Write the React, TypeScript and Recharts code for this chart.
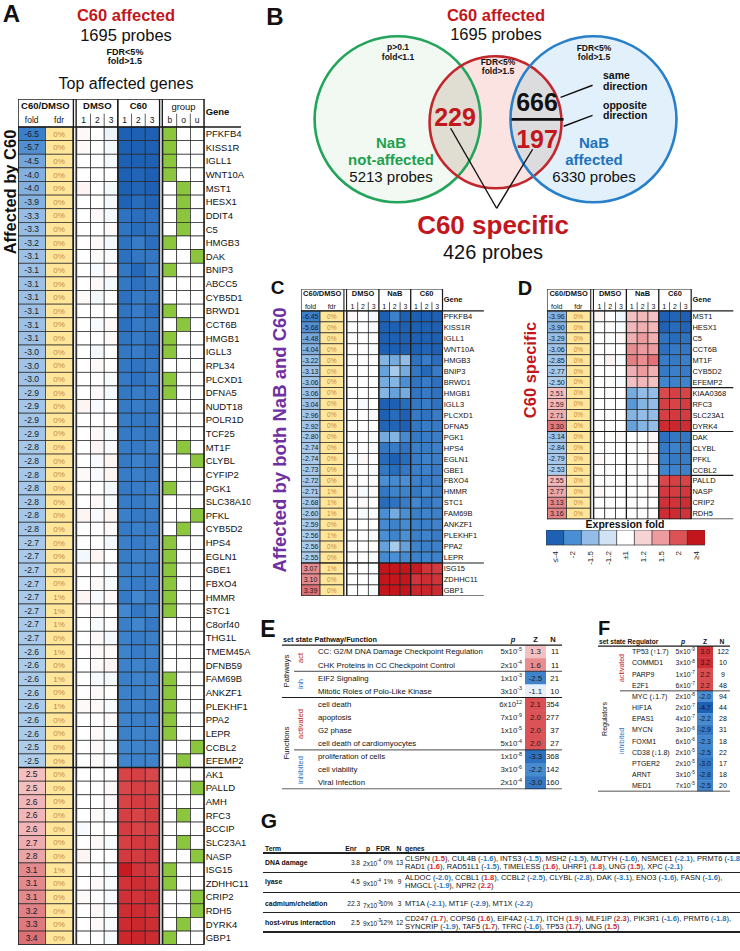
import React from "react";
import { ScatterChart, Scatter, XAxis, YAxis, BarChart, Bar, Cell } from "recharts";

const FONT = '"Liberation Sans", Arial, Helvetica, sans-serif';
const RED = "#c1171d";
const BLUE = "#1f73bd";
const GREEN = "#1fa04f";
const PURPLE = "#7030a0";

// ---------- panel A: top affected genes ----------
const aGenes = ["PFKFB4", "KISS1R", "IGLL1", "WNT10A", "MST1", "HESX1", "DDIT4", "C5", "HMGB3", "DAK", "BNIP3", "ABCC5", "CYB5D1", "BRWD1", "CCT6B", "HMGB1", "IGLL3", "RPL34", "PLCXD1", "DFNA5", "NUDT18", "POLR1D", "TCF25", "MT1F", "CLYBL", "CYFIP2", "PGK1", "SLC38A10", "PFKL", "CYB5D2", "HPS4", "EGLN1", "GBE1", "FBXO4", "HMMR", "STC1", "C8orf40", "THG1L", "TMEM45A", "DFNB59", "FAM69B", "ANKZF1", "PLEKHF1", "PPA2", "LEPR", "CCBL2", "EFEMP2", "AK1", "PALLD", "AMH", "RFC3", "BCCIP", "SLC23A1", "NASP", "ISG15", "ZDHHC11", "CRIP2", "RDH5", "DYRK4", "GBP1"];
const aFold = [-6.5, -5.7, -4.5, -4.0, -4.0, -3.9, -3.3, -3.3, -3.2, -3.1, -3.1, -3.1, -3.1, -3.1, -3.1, -3.1, -3.0, -3.0, -3.0, -2.9, -2.9, -2.9, -2.9, -2.8, -2.8, -2.8, -2.8, -2.8, -2.8, -2.8, -2.7, -2.7, -2.7, -2.7, -2.7, -2.7, -2.7, -2.7, -2.6, -2.6, -2.6, -2.6, -2.6, -2.6, -2.6, -2.5, -2.5, 2.5, 2.5, 2.6, 2.6, 2.6, 2.7, 2.8, 3.1, 3.1, 3.1, 3.2, 3.3, 3.4];
const aFdr = [0, 0, 0, 0, 0, 0, 0, 0, 0, 0, 0, 0, 0, 0, 0, 0, 0, 0, 0, 0, 0, 0, 0, 0, 0, 0, 0, 0, 0, 0, 0, 0, 0, 0, 1, 1, 1, 0, 1, 0, 1, 0, 1, 0, 0, 0, 0, 0, 0, 0, 0, 0, 0, 0, 1, 0, 0, 0, 0, 0];
const aGroup = ["b", "b", "b", "b", "o", "o", "o", "o", "b", "u", "b", "", "", "b", "o", "b", "b", "", "b", "b", "", "", "", "o", "u", "", "b", "", "u", "o", "b", "b", "b", "b", "b", "b", "", "", "", "", "b", "b", "b", "b", "b", "u", "o", "", "u", "", "o", "", "o", "u", "b", "b", "u", "u", "o", "b"];
const aDmso = [
  [1.03, 1, -1.08], [1.03, 1, -1.05], [1, 1, -1.05], [1, 1, 1], [1.05, 1, -1.05], [1, 1, -1.05], [1, 1.03, -1.05], [1, 1, 1.03], [1, 1.03, -1.05], [1, 1.03, -1.03],
  [1, -1.03, 1.03], [1, 1.03, -1.05], [1.03, -1.05, 1], [1, 1, 1], [1, -1.03, 1.03], [1, 1, 1.03], [1, -1.05, 1], [1, 1.03, 1], [1, 1, -1.03], [1, 1.03, -1.05],
  [1.05, -1.03, 1], [1, 1, 1], [1, 1.03, -1.03], [1, 1.05, -1.03], [1, -1.03, 1.05], [1.03, -1.03, 1.05], [1, 1, -1.05], [1, 1.03, -1.03], [1.05, -1.03, 1.05], [1, 1, 1.03],
  [1, 1, -1.05], [-1.05, 1.05, 1], [1, 1, -1.03], [1, 1.03, -1.03], [1.05, -1.03, 1.03], [1, 1.03, 1], [1, -1.03, 1], [1, 1.03, -1.05], [1, 1.03, 1.03], [1, 1.03, 1.05],
  [1, -1.03, -1.05], [1, 1.03, 1], [1.03, 1.03, -1.03], [1, 1, 1.03], [1, 1.03, -1.03], [1, 1.03, -1.03], [1, 1.03, -1.03], [1, 1, 1], [1, 1, 1.03], [1, 1, 1.03],
  [1, 1.03, -1.03], [-1.03, 1, 1], [1, 1.03, -1.03], [1.05, 1, 1], [1, 1, -1.03], [1, 1.03, -1.03], [1.03, 1, -1.03], [1, 1.03, -1.03], [1, 1.03, -1.03], [1, 1, -1.03],
];
const aC60 = [
  [-6, -6, -6], [-5.5, -5.7, -5.8], [-4.5, -4.3, -4.6], [-4, -3.8, -4.2], [-4, -3.8, -4.1], [-3.9, -3.5, -3.8], [-3.2, -3.4, -3.3], [-3.1, -3.5, -3.2], [-3.2, -2.8, -3.4], [-3.3, -3, -3],
  [-3, -3.6, -2.8], [-3, -3.2, -3], [-3.3, -2.9, -3], [-3.1, -2.8, -3.3], [-3.3, -2.9, -3], [-3.1, -2.9, -3.2], [-3, -2.8, -3.2], [-3, -3.1, -2.9], [-2.9, -3.2, -2.8], [-3, -2.8, -2.9],
  [-2.9, -2.8, -3], [-2.8, -3, -2.9], [-2.9, -2.8, -3], [-2.8, -2.9, -2.7], [-2.9, -2.6, -2.9], [-2.8, -2.7, -2.9], [-2.9, -2.8, -2.7], [-2.8, -2.9, -2.6], [-2.7, -2.9, -2.8], [-2.9, -2.7, -2.8],
  [-2.7, -2.8, -2.6], [-2.8, -2.6, -2.7], [-2.7, -2.6, -2.8], [-2.6, -2.8, -2.7], [-2.9, -2.3, -2.8], [-2.3, -3, -2.6], [-2.7, -2.4, -2.9], [-2.6, -2.8, -2.7], [-2.5, -2.8, -2.6], [-2.6, -2.5, -2.7],
  [-2.7, -2.5, -2.6], [-2.6, -2.7, -2.5], [-2.7, -2.5, -2.8], [-2.5, -2.7, -2.6], [-2.6, -2.5, -2.6], [-2.4, -2.5, -2.6], [-2.4, -2.6, -2.5], [2.5, 2.6, 2.4], [2.4, 2.6, 2.5], [2.5, 2.7, 2.6],
  [2.6, 2.5, 2.7], [2.7, 2.5, 2.6], [2.6, 2.8, 2.7], [2.8, 2.7, 2.9], [3.8, 3, 2.8], [3, 3.2, 3], [3.1, 3, 3.2], [3.2, 3.3, 3], [3.3, 3.4, 3.2], [3.4, 3.5, 3.3],
];
const groupKeys = ["b", "o", "u"];

// ---------- panel C: affected by both NaB and C60 ----------
const cGenes = ["PFKFB4", "KISS1R", "IGLL1", "WNT10A", "HMGB3", "BNIP3", "BRWD1", "HMGB1", "IGLL3", "PLCXD1", "DFNA5", "PGK1", "HPS4", "EGLN1", "GBE1", "FBXO4", "HMMR", "STC1", "FAM69B", "ANKZF1", "PLEKHF1", "PPA2", "LEPR", "ISG15", "ZDHHC11", "GBP1"];
const cFold = [-6.45, -5.68, -4.48, -4.04, -3.22, -3.13, -3.06, -3.06, -3.04, -2.96, -2.92, -2.80, -2.74, -2.74, -2.73, -2.72, -2.71, -2.68, -2.60, -2.59, -2.56, -2.56, -2.55, 3.07, 3.10, 3.39];
const cFdr = [0, 0, 0, 0, 0, 0, 0, 0, 0, 0, 0, 0, 0, 0, 0, 0, 1, 1, 1, 0, 1, 0, 0, 1, 0, 0];
const cDmso = [[1.03, 1, -1.05], [1, 1, -1.03], [1, 1, 1], [1, 1, -1.03], [1, 1, 1], [1, 1, 1], [1, 1, 1], [1, 1, 1], [1, -1.03, 1], [1, 1, -1.03], [1, 1, 1], [1, 1, -1.03], [1, 1, -1.03], [-1.03, 1.03, 1], [1, 1, -1.03], [1, 1, 1], [1.03, -1.03, 1.03], [1, 1.03, 1], [1, -1.03, -1.03], [1, 1, 1], [1, 1, -1.03], [1, 1, 1], [1, 1, -1.03], [1, 1, -1.03], [1, 1, -1.03], [1, 1, -1.03]];
const cNab = [[-4.5, -2.6, -5], [-5, -5, -5], [-4.5, -4.5, -4.5], [-4.2, -4.2, -4.2], [-1.6, -1.7, -1.5], [-1.8, -1.4, -1.7], [-1.7, -1.6, -2], [-1.6, -1.8, -1.7], [-4, -4, -3.5], [-4, -3.5, -4], [-3.8, -3.8, -4], [-1.7, -1.6, -2.2], [-3, -2.8, -3.2], [-3.5, -4, -3.5], [-3, -3.5, -3], [-2, -2.2, -2], [-3, -2.5, -2.5], [-3.5, -3.2, -2.8], [-2, -1.7, -2], [-2.2, -2.5, -2.2], [-2, -2.5, -2], [-1.8, -1.4, -1.8], [-2.2, -2, -2.2], [5, 5, 5], [5, 5, 5], [4.5, 4.5, 4.5]];
const cC60 = [[-6, -6, -6], [-5.5, -5.7, -5.8], [-4.5, -4.3, -4.6], [-4, -3.8, -4.2], [-3.2, -2.8, -3.4], [-3, -3.6, -2.8], [-3.1, -2.8, -3.3], [-3.1, -2.9, -3.2], [-3, -2.8, -3.2], [-2.9, -3.2, -2.8], [-3, -2.8, -2.9], [-2.9, -2.8, -2.7], [-2.7, -2.8, -2.6], [-2.8, -2.6, -2.7], [-2.7, -2.6, -2.8], [-2.6, -2.8, -2.7], [-2.9, -2.3, -2.8], [-2.3, -3, -2.6], [-2.7, -2.5, -2.6], [-2.6, -2.7, -2.5], [-2.7, -2.5, -2.8], [-2.5, -2.7, -2.6], [-2.6, -2.5, -2.6], [3.8, 3, 2.8], [3, 3.2, 3], [3.4, 3.5, 3.3]];

// ---------- panel D: C60 specific ----------
const dGenes = ["MST1", "HESX1", "C5", "CCT6B", "MT1F", "CYB5D2", "EFEMP2", "KIAA0368", "RFC3", "SLC23A1", "DYRK4", "DAK", "CLYBL", "PFKL", "CCBL2", "PALLD", "NASP", "CRIP2", "RDH5"];
const dFold = [-3.96, -3.90, -3.29, -3.06, -2.85, -2.77, -2.50, 2.51, 2.59, 2.71, 3.30, -3.14, -2.84, -2.79, -2.53, 2.55, 2.77, 3.13, 3.16];
const dFdr = [0, 0, 0, 0, 0, 0, 0, 0, 0, 0, 0, 0, 0, 0, 0, 0, 0, 0, 0];
const dDmso = [[1.05, 1, -1.05], [1, 1, -1.03], [1, 1, 1.03], [1, 1, 1], [1, 1.05, -1.03], [1, 1, 1], [1, 1, -1.03], [1, 1, 1], [1, 1, 1], [1, 1, 1], [1, 1, 1], [1, 1, 1.03], [1, 1, 1], [1.03, 1, 1], [1, 1, 1], [1, 1, 1], [1.03, 1, 1], [1, 1, 1], [1, 1, 1]];
const dNab = [[1.3, 1.35, 1.3], [1.35, 1.4, 1.35], [1.4, 1.5, 1.4], [1.6, 1.5, 1.5], [1.7, 1.6, 1.8], [1.4, 1.5, 1.4], [1.3, 1.35, 1.3], [-1.7, -1.5, -1.5], [-1.9, -1.6, -1.5], [-1.6, -1.5, -1.5], [-1.8, -1.6, -1.5], [1, 1, 1.03], [1, 1, 1.03], [1, 1, 1.05], [1, 1, 1], [1, 1, 1.03], [1, 1, 1.03], [1, 1, 1], [1, 1, 1]];
const dC60 = [[-4, -3.8, -4.1], [-3.9, -3.5, -3.8], [-3.1, -3.5, -3.2], [-3.3, -2.9, -3], [-2.8, -2.9, -2.7], [-2.9, -2.7, -2.8], [-2.4, -2.6, -2.5], [2.3, 2.6, 2.5], [2.6, 2.5, 2.7], [2.6, 2.8, 2.7], [3.3, 3.4, 3.2], [-3.3, -3, -3], [-2.9, -2.6, -2.9], [-2.7, -2.9, -2.8], [-2.4, -2.5, -2.6], [2.4, 2.6, 2.5], [2.8, 2.7, 2.9], [3.1, 3, 3.2], [3.2, 3.3, 3]];

// ---------- colour legend ----------
const legendLabels = ["≤-4", "-2", "-1.5", "-1.2", "±1", "1.2", "1.5", "2", "≥4"];
const legendValues = [-4, -2, -1.5, -1.2, 1, 1.2, 1.5, 2, 4];

// ---------- panel E: pathways / functions ----------
const eNames = ["CC: G2/M DNA Damage Checkpoint Regulation", "CHK Proteins in CC Checkpoint Control", "EIF2 Signaling", "Mitotic Roles of Polo-Like Kinase", "cell death", "apoptosis", "G2 phase", "cell death of cardiomyocytes", "proliferation of cells", "cell viability", "Viral Infection"];
const eP = [["5", "-5"], ["2", "-4"], ["1", "-3"], ["3", "-3"], ["6", "12"], ["7", "-9"], ["1", "-5"], ["5", "-4"], ["1", "-8"], ["3", "-6"], ["2", "-4"]];
const eZ = [1.3, 1.6, -2.5, -1.1, 2.1, 2.0, 2.0, 2.0, -3.3, -2.2, -3.0];
const eN = [11, 11, 21, 10, 354, 277, 37, 27, 368, 142, 160];

// ---------- panel F: upstream regulators ----------
const fNames = ["TP53 (↑1.7)", "COMMD1", "PARP9", "E2F1", "MYC (↓1.7)", "HIF1A", "EPAS1", "MYCN", "FOXM1", "CD38 (↓1.8)", "PTGER2", "ARNT", "MED1"];
const fP = [["5", "-9"], ["3", "-8"], ["1", "-7"], ["6", "-7"], ["2", "-8"], ["2", "-7"], ["4", "-7"], ["3", "-6"], ["6", "-6"], ["2", "-5"], ["2", "-5"], ["3", "-5"], ["7", "-5"]];
const fZ = [3.0, 3.2, 2.2, 2.2, -2.0, -4.7, -2.2, -2.9, -2.3, -2.5, -3.0, -2.8, -2.5];
const fN = [122, 10, 9, 48, 94, 44, 28, 31, 18, 22, 17, 18, 20];

// ---------- panel G: enriched terms ----------
const gTerms = ["DNA damage", "lyase", "cadmium/chelation", "host-virus interaction"];
const gEnr = ["3.8", "4.5", "22.3", "2.5"];
const gP = [["2", "-4"], ["9", "-4"], ["7", "-3"], ["9", "-3"]];
const gFdr = ["0%", "1%", "10%", "12%"];
const gN = [13, 9, 3, 12];
const gGenes: [string, number][][][] = [
  [[["CLSPN", 1.5], ["CUL4B", -1.6], ["INTS3", -1.5], ["MSH2", -1.5], ["MUTYH", -1.6], ["NSMCE1", -2.1], ["PRMT6", -1.8]],
   [["RAD1", 1.6], ["RAD51L1", -1.5], ["TIMELESS", 1.6], ["UHRF1", 1.8], ["UNG", 1.5], ["XPC", -2.1]]],
  [[["ALDOC", -2.0], ["CCBL1", 1.8], ["CCBL2", -2.5], ["CLYBL", -2.8], ["DAK", -3.1], ["ENO3", -1.6], ["FASN", -1.6]],
   [["HMGCL", -1.9], ["NPR2", 2.2]]],
  [[["MT1A", -2.1], ["MT1F", -2.9], ["MT1X", -2.2]]],
  [[["CD247", 1.7], ["COPS6", 1.6], ["EIF4A2", -1.7], ["ITCH", 1.9], ["MLF1IP", 2.3], ["PIK3R1", -1.6], ["PRMT6", -1.8]],
   [["SYNCRIP", -1.9], ["TAF5", 1.7], ["TFRC", -1.6], ["TP53", 1.7], ["UNG", 1.5]]],
];

// ---------- venn ----------
const vennSets = [
  { key: "nab0", x: 0, y: 0, r: 1, fill: "#f1f9f2", stroke: "#22a45a" },
  { key: "c60", x: 1.18, y: 0.036, r: 0.795, fill: "#fbe3e1", stroke: "#c1272d" },
  { key: "nab", x: 2.36, y: 0, r: 1, fill: "#e1f0fa", stroke: "#2a80c8" },
];
const vennLenses = [
  { key: "lgr", x: 0, y: 0, r: 1, clip: "c60", fill: "#e0ddd3" },
  { key: "lrb", x: 2.36, y: 0, r: 1, clip: "c60", fill: "#dcdcdf" },
];
const vennLinks = [
  { x: 1.373, y: 0, x2: 2.0, y2: 0, w: 2.8 },
  { x: 1.964, y: -0.265, x2: 2.349, y2: -0.41, w: 1.4 },
  { x: 2.0, y: 0.084, x2: 2.349, y2: -0.048, w: 1.4 },
  { x: 0.639, y: 0.108, x2: 1.193, y2: 1.072, w: 1.4 },
  { x: 1.193, y: 1.072, x2: 1.627, y2: 0.361, w: 1.4 },
];

// ---------- colours ----------
const heatStops: [number, string][] = [
  [-4, "#1d60b4"], [-2, "#4a8fd3"], [-1.5, "#93bde6"], [-1.2, "#d0e2f3"], [-1, "#ffffff"],
  [1, "#ffffff"], [1.2, "#f7d4d4"], [1.5, "#ec9c9f"], [2, "#dc5357"], [4, "#c3151c"],
];
function mix(a: string, b: string, t: number) {
  const pa = [1, 3, 5].map((i) => parseInt(a.slice(i, i + 2), 16));
  const pb = [1, 3, 5].map((i) => parseInt(b.slice(i, i + 2), 16));
  return "#" + pa.map((v, i) => Math.round(v + (pb[i] - v) * t).toString(16).padStart(2, "0")).join("");
}
function heatColor(v: number) {
  if (v <= heatStops[0][0]) return heatStops[0][1];
  for (let i = 1; i < heatStops.length; i++) {
    const [v1, c1] = heatStops[i];
    const [v0, c0] = heatStops[i - 1];
    if (v <= v1) return mix(c0, c1, (v - v0) / (v1 - v0));
  }
  return heatStops[heatStops.length - 1][1];
}
function foldColor(v: number) {
  if (v < 0) return mix("#aecdeb", "#3b7fca", Math.min(1, Math.max(0, (-v - 2.5) / 4)));
  return mix("#f3bfc1", "#d9676c", Math.min(1, Math.max(0, (v - 2.5) / 1)));
}

type Pt = { x: number; y: number; kind: string; w?: number; v?: number; t?: string; sup?: string; fs?: number; bold?: boolean; italic?: boolean; color?: string; anchor?: string };
type Ln = { x: number; y: number; x2: number; y2: number; w: number };

const cellShape = (ux: number, uy: number) => (p: any) => {
  const d: Pt = p.payload;
  const cx: number = p.cx;
  const cy: number = p.cy;
  const w = (d.w ?? 1) * ux;
  const h = uy;
  const x = cx - w / 2;
  const y = cy - h / 2;
  const fs = d.fs ?? 8;
  const label = (fill: string) =>
    d.t ? (
      <text x={cx} y={cy} dy="0.36em" textAnchor="middle" fontSize={fs} fill={fill} fontFamily={FONT}>{d.t}</text>
    ) : null;
  if (d.kind === "heat") return <rect x={x} y={y} width={w} height={h} fill={heatColor(d.v!)} stroke="#262626" strokeWidth={0.7} />;
  if (d.kind === "fold")
    return (<g><rect x={x} y={y} width={w} height={h} fill={foldColor(d.v!)} stroke="#262626" strokeWidth={0.7} />{label("#1c1c1c")}</g>);
  if (d.kind === "fdr")
    return (<g><rect x={x} y={y} width={w} height={h} fill="#ffe69a" stroke="#262626" strokeWidth={0.7} />{label("#c08a3e")}</g>);
  if (d.kind === "group") return <rect x={x} y={y} width={w} height={h} fill={d.v ? "#8cc63f" : "#ffffff"} stroke="#262626" strokeWidth={0.7} />;
  if (d.kind === "z")
    return (<g><rect x={x} y={y} width={w} height={h + 0.3} fill={heatColor(d.v!)} />{label("#1c1c1c")}</g>);
  if (d.kind === "p")
    return (
      <text x={cx} y={cy} dy="0.36em" textAnchor="end" fontSize={fs} fill="#1c1c1c" fontFamily={FONT}>
        {d.t}x10<tspan dy={-fs * 0.42} fontSize={fs * 0.68}>{d.sup}</tspan>
      </text>
    );
  return (
    <text x={cx} y={cy} dy="0.36em" textAnchor={(d.anchor as any) ?? "middle"} fontSize={fs} fontWeight={d.bold ? 700 : 400}
      fontStyle={d.italic ? "italic" : "normal"} fill={d.color ?? "#111"} fontFamily={FONT}>{d.t}</text>
  );
};

// a rule drawn from (x, y) to (x2, y2) in data units, on top of the cells
const ruleShape = (ux: number, uy: number, color = "#1b1b1b") => (p: any) => {
  const d: Ln = p.payload;
  return <line x1={p.cx} y1={p.cy} x2={p.cx + (d.x2 - d.x) * ux} y2={p.cy + (d.y2 - d.y) * uy} stroke={color} strokeWidth={d.w} />;
};

function GridTable({ left, top, ux, uy, hdr, rows, total, points, lines }: { left: number; top: number; ux: number; uy: number; hdr: number; rows: number; total: number; points: Pt[]; lines: Ln[] }) {
  const M = 4;
  const W = total * ux;
  const H = (hdr + rows) * uy;
  return (
    <div style={{ position: "absolute", left: left - M, top: top - M }}>
      <ScatterChart width={W + 2 * M} height={H + 2 * M} margin={{ top: M, right: M, bottom: M, left: M }}>
        <XAxis type="number" dataKey="x" domain={[0, total]} hide allowDataOverflow />
        <YAxis type="number" dataKey="y" domain={[-hdr, rows]} reversed hide allowDataOverflow />
        <Scatter data={points} shape={cellShape(ux, uy)} isAnimationActive={false} />
        <Scatter data={lines} shape={ruleShape(ux, uy)} isAnimationActive={false} />
      </ScatterChart>
    </div>
  );
}

function buildExpr(o: any) {
  const pts: Pt[] = [];
  const lines: Ln[] = [];
  const L = (x: number, y: number, x2: number, y2: number, w: number) => lines.push({ x, y, x2, y2, w });
  const n = o.genes.length;
  const hx = o.fw + o.dw + o.gap;
  const he = hx + 3 * o.blocks.length;
  const gx = o.group ? he + o.gap : he;
  const gene = o.group ? gx + 3 : he;
  const total = gene + o.gw;
  o.genes.forEach((g: string, i: number) => {
    const y = i + 0.5;
    const f = o.fold[i];
    pts.push({ x: o.fw / 2, y, w: o.fw, kind: "fold", v: f, t: f.toFixed(o.digits), fs: o.fsVal });
    pts.push({ x: o.fw + o.dw / 2, y, w: o.dw, kind: "fdr", t: o.fdr[i] + "%", fs: o.fsVal - 0.5 });
    o.blocks.forEach((b: any, k: number) =>
      b.vals[i].forEach((v: number, j: number) => pts.push({ x: hx + 3 * k + j + 0.5, y, w: 1, kind: "heat", v })));
    if (o.group) groupKeys.forEach((key, j) => pts.push({ x: gx + j + 0.5, y, w: 1, kind: "group", v: o.group[i] === key ? 1 : 0 }));
    pts.push({ x: gene + 0.12, y, kind: "text", anchor: "start", t: g, fs: o.fsGene });
  });
  pts.push({ x: (o.fw + o.dw) / 2, y: o.topY, kind: "text", t: "C60/DMSO", bold: true, fs: o.fsHead });
  pts.push({ x: o.fw / 2, y: o.subY, kind: "text", t: "fold", fs: o.fsSub });
  pts.push({ x: o.fw + o.dw / 2, y: o.subY, kind: "text", t: "fdr", fs: o.fsSub });
  const subSeps = (x0: number) => { L(x0 + 1, o.subTop, x0 + 1, 0, 0.7); L(x0 + 2, o.subTop, x0 + 2, 0, 0.7); };
  o.blocks.forEach((b: any, k: number) => {
    pts.push({ x: hx + 3 * k + 1.5, y: o.topY, kind: "text", t: b.name, bold: true, fs: o.fsHead });
    [1, 2, 3].forEach((num, j) => pts.push({ x: hx + 3 * k + j + 0.5, y: o.subY, kind: "text", t: String(num), fs: o.fsSub }));
    subSeps(hx + 3 * k);
    if (k > 0) L(hx + 3 * k, -o.hdr, hx + 3 * k, n, o.lw * 1.1);
  });
  if (o.group) {
    pts.push({ x: gx + 1.5, y: o.topY + 0.05, kind: "text", t: "group", fs: o.fsHead });
    groupKeys.forEach((key, j) => pts.push({ x: gx + j + 0.5, y: o.subY, kind: "text", t: key, fs: o.fsSub }));
    subSeps(gx);
    L(he + o.dd, -o.hdr, he + o.dd, n, o.lw * 0.9);
    L(gx - o.dd, -o.hdr, gx - o.dd, n, o.lw * 0.9);
  }
  pts.push({ x: gene + 0.12, y: o.geneY, kind: "text", anchor: "start", t: "Gene", bold: true, fs: o.fsHead });
  L(0, -o.hdr, gene, -o.hdr, o.lw);
  L(0, 0, gene + o.gwLine, 0, o.lw);
  L(0, -o.hdr, 0, n, o.lw);
  L(o.fw + o.dw + o.dd, -o.hdr, o.fw + o.dw + o.dd, n, o.lw * 0.9);
  L(hx - o.dd, -o.hdr, hx - o.dd, n, o.lw * 0.9);
  L(gene, -o.hdr, gene, n, o.lw);
  o.sepFull.forEach((r: number) => L(0, r, gene + o.gwLine, r, o.lw));
  o.sepGene.forEach((r: number) => L(gene, r, gene + o.gwLine, r, o.lw));
  L(0, n, o.bottomGene ? gene + o.gwLine : gene, n, o.lw);
  return { pts, lines, total, n };
}

const tabA = buildExpr({
  genes: aGenes, fold: aFold, fdr: aFdr, group: aGroup, digits: 1,
  blocks: [{ name: "DMSO", vals: aDmso }, { name: "C60", vals: aC60 }],
  fw: 2, dw: 2, gap: 0.3, gw: 3.4, gwLine: 2.7, dd: 0.05, hdr: 2.05, lw: 1.5,
  topY: -1.54, subY: -0.5, subTop: -0.98, geneY: -1.1,
  fsHead: 9.5, fsSub: 8.5, fsVal: 8.5, fsGene: 9.5, sepFull: [47], sepGene: [], bottomGene: false,
});
const tabC = buildExpr({
  genes: cGenes, fold: cFold, fdr: cFdr, digits: 2,
  blocks: [{ name: "DMSO", vals: cDmso }, { name: "NaB", vals: cNab }, { name: "C60", vals: cC60 }],
  fw: 1.8, dw: 2.2, gap: 0.35, gw: 4.0, gwLine: 3.9, dd: 0.05, hdr: 2.0, lw: 1.2,
  topY: -1.57, subY: -0.36, subTop: -0.8, geneY: -1.08,
  fsHead: 7.5, fsSub: 7, fsVal: 7, fsGene: 7.5, sepFull: [23], sepGene: [], bottomGene: true,
});
const tabD = buildExpr({
  genes: dGenes, fold: dFold, fdr: dFdr, digits: 2,
  blocks: [{ name: "DMSO", vals: dDmso }, { name: "NaB", vals: dNab }, { name: "C60", vals: dC60 }],
  fw: 1.8, dw: 2.2, gap: 0.35, gw: 4.0, gwLine: 3.9, dd: 0.05, hdr: 2.0, lw: 1.2,
  topY: -1.57, subY: -0.36, subTop: -0.8, geneY: -1.08,
  fsHead: 7.5, fsSub: 7, fsVal: 7, fsGene: 7.5, sepFull: [11], sepGene: [7, 15], bottomGene: true,
});

function buildStat(names: string[], ps: string[][], zs: number[], ns: number[], c: any, head: any[], seps: Ln[]) {
  const pts: Pt[] = [];
  names.forEach((nm, i) => {
    const y = i + 0.5;
    pts.push({ x: c.name, y, kind: "text", anchor: "start", t: nm, fs: c.fs });
    pts.push({ x: c.p, y, kind: "p", t: ps[i][0], sup: ps[i][1], fs: c.fs });
    pts.push({ x: c.z, y, w: c.zw, kind: "z", v: zs[i], t: zs[i].toFixed(1), fs: c.fs });
    pts.push({ x: c.n, y, kind: "text", anchor: c.nAnchor, t: String(ns[i]), fs: c.fs });
  });
  head.forEach((h) => pts.push({ x: h[1], y: -0.45, kind: "text", anchor: h[2], t: h[0], bold: true, italic: h[0] === "p", fs: h[3] ?? c.fs - 0.3 }));
  return { pts, lines: seps };
}

const tabE = buildStat(eNames, eP, eZ, eN, { name: 36, p: 240, z: 253.5, zw: 21, n: 277, nAnchor: "end", fs: 7.8 },
  [["set state Pathway/Function", 1, "start", 7.3], ["p", 231, "middle"], ["Z", 253.5, "middle"], ["N", 271, "middle"]],
  [
    { x: 0, y: 0, x2: 280, y2: 0, w: 1.1 }, { x: 12, y: 2, x2: 280, y2: 2, w: 0.8 }, { x: 0, y: 4, x2: 280, y2: 4, w: 1.1 },
    { x: 12, y: 8, x2: 280, y2: 8, w: 0.8 }, { x: 0, y: 11, x2: 280, y2: 11, w: 1.3 },
  ]);
const tabF = buildStat(fNames, fP, fZ, fN, { name: 34, p: 97, z: 107, zw: 16, n: 125, nAnchor: "middle", fs: 7 },
  [["set state Regulator", 1, "start", 6.6], ["p", 85, "middle"], ["Z", 107, "middle"], ["N", 124, "middle"]],
  [{ x: 0, y: 0, x2: 132, y2: 0, w: 1.1 }, { x: 22, y: 4, x2: 132, y2: 4, w: 0.8 }, { x: 0, y: 13, x2: 132, y2: 13, w: 1.3 }]);

function T({ x, y, s, b, c, a = "middle", r, it, children }: any) {
  const tx = a === "middle" ? "-50%" : a === "end" ? "-100%" : "0";
  return (
    <div style={{ position: "absolute", left: x, top: y, transform: `translate(${tx}, -50%)${r ? " rotate(-90deg)" : ""}`, fontSize: s, fontWeight: b ? 700 : 400, fontStyle: it ? "italic" : "normal", color: c ?? "#111", whiteSpace: "nowrap", lineHeight: 1 }}>
      {children}
    </div>
  );
}

const VU = 83;
function Venn() {
  const M = 4;
  const xd = [-1.2, 3.6];
  const yd = [-1.1, 1.2];
  const W = (xd[1] - xd[0]) * VU;
  const H = (yd[1] - yd[0]) * VU;
  const fillShape = (p: any) => <circle cx={p.cx} cy={p.cy} r={p.payload.r * VU} fill={p.payload.fill} />;
  const lineShape = (p: any) => <circle cx={p.cx} cy={p.cy} r={p.payload.r * VU} fill="none" stroke={p.payload.stroke} strokeWidth={2.6} />;
  const lensShape = (p: any) => {
    const d = p.payload;
    const o = vennSets.find((s) => s.key === d.clip)!;
    return (
      <g>
        <defs><clipPath id={d.key}><circle cx={p.cx + (o.x - d.x) * VU} cy={p.cy + (o.y - d.y) * VU} r={o.r * VU} /></clipPath></defs>
        <circle cx={p.cx} cy={p.cy} r={d.r * VU} fill={d.fill} clipPath={`url(#${d.key})`} />
      </g>
    );
  };
  return (
    <div style={{ position: "absolute", left: 398 + xd[0] * VU - M, top: 119 + yd[0] * VU - M }}>
      <ScatterChart width={W + 2 * M} height={H + 2 * M} margin={{ top: M, right: M, bottom: M, left: M }}>
        <XAxis type="number" dataKey="x" domain={xd} hide allowDataOverflow />
        <YAxis type="number" dataKey="y" domain={yd} reversed hide allowDataOverflow />
        <Scatter data={vennSets} shape={fillShape} isAnimationActive={false} />
        <Scatter data={vennLenses} shape={lensShape} isAnimationActive={false} />
        <Scatter data={vennSets} shape={lineShape} isAnimationActive={false} />
        <Scatter data={vennLinks} shape={ruleShape(VU, VU, "#111")} isAnimationActive={false} />
      </ScatterChart>
    </div>
  );
}

const LegendTick = (p: any) => (
  <text x={p.x} y={p.y - 2} transform={`rotate(-90 ${p.x} ${p.y - 2})`} textAnchor="end" dy="0.35em" fontSize={8} fill="#222" fontFamily={FONT}>{p.payload.value}</text>
);
function FoldLegend() {
  const data = legendLabels.map((label, i) => ({ label, v: 1, color: heatColor(legendValues[i]) }));
  return (
    <div style={{ position: "absolute", left: 546, top: 530 }}>
      <BarChart width={159} height={42} data={data} margin={{ top: 0, right: 0, bottom: 0, left: 0 }} barCategoryGap={0}>
        <XAxis dataKey="label" interval={0} tickLine={false} axisLine={false} height={27} tick={LegendTick} />
        <YAxis hide domain={[0, 1]} />
        <Bar dataKey="v" isAnimationActive={false} stroke="#333" strokeWidth={0.7}>
          {data.map((d, i) => <Cell key={i} fill={d.color} />)}
        </Bar>
      </BarChart>
    </div>
  );
}

function PanelG() {
  const rowTop = [853, 872, 892, 912, 932];
  const labelY = [862.5, 882, 904, 922.5];
  const fs = 7.5;
  const nf = 6.5;
  return (
    <>
      {rowTop.map((y, i) => {
        const thick = i === 0 || i === rowTop.length - 1;
        return <div key={"l" + i} style={{ position: "absolute", left: 263, top: y - (thick ? 0.75 : 0.4), width: 477, height: thick ? 1.5 : 0.8, background: "#222" }} />;
      })}
      <T x={265} y={849} s={6.8} b a="start">Term</T>
      <T x={351} y={849} s={6.8} b>Enr</T>
      <T x={368} y={849} s={6.8} b>p</T>
      <T x={383} y={849} s={6.8} b>FDR</T>
      <T x={399} y={849} s={6.8} b>N</T>
      <T x={405} y={849} s={6.8} b a="start">genes</T>
      {gTerms.map((t, i) => (
        <React.Fragment key={t}>
          <T x={265} y={labelY[i]} s={6.9} b a="start">{t}</T>
          <T x={360} y={labelY[i]} s={nf} a="end">{gEnr[i]}</T>
          <T x={363} y={labelY[i] + 0.5} s={nf} a="start">{gP[i][0]}x10<sup style={{ fontSize: 4.5, verticalAlign: "3.5px" }}>{gP[i][1]}</sup></T>
          <T x={393} y={labelY[i]} s={nf} a="end">{gFdr[i]}</T>
          <T x={399.5} y={labelY[i]} s={nf}>{gN[i]}</T>
          {gGenes[i].map((line, li) => {
            const yy = gGenes[i].length === 1 ? labelY[i] : labelY[i] + (li === 0 ? -4 : 4);
            return (
              <T key={li} x={405} y={yy} s={fs} a="start">
                {line.map(([g, v], k) => (
                  <span key={k}>
                    {g} (<b style={{ color: v > 0 ? "#d7262c" : "#2878c0" }}>{v.toFixed(1)}</b>)
                    {k < line.length - 1 || li < gGenes[i].length - 1 ? ", " : ""}
                  </span>
                ))}
              </T>
            );
          })}
        </React.Fragment>
      ))}
    </>
  );
}

export default function App() {
  return (
    <div style={{ position: "absolute", left: 0, top: 0, width: 740, height: 951, background: "#fff", fontFamily: FONT, overflow: "hidden", color: "#111" }}>
      {/* panel A */}
      <T x={11.5} y={13.5} s={24} b>A</T>
      <T x={126} y={15} s={16.5} b c={RED}>C60 affected</T>
      <T x={126} y={35} s={16.5}>1695 probes</T>
      <T x={125} y={51.5} s={9} b>FDR&lt;5%</T>
      <T x={125} y={60.5} s={9} b>fold&gt;1.5</T>
      <T x={126} y={84} s={16}>Top affected genes</T>
      <T x={10} y={192} s={16.5} b r>Affected by C60</T>
      <GridTable left={18} top={99} ux={13.68} uy={13.63} hdr={2.05} rows={tabA.n} total={tabA.total} points={tabA.pts} lines={tabA.lines} />

      {/* panel B */}
      <T x={275} y={16.5} s={24} b>B</T>
      <Venn />
      <T x={496} y={15} s={16.5} b c={RED}>C60 affected</T>
      <T x={496} y={34} s={16.5}>1695 probes</T>
      <T x={398} y={47} s={8.5} b>p&gt;0.1</T>
      <T x={398} y={56.5} s={8.5} b>fold&lt;1.1</T>
      <T x={498} y={62} s={8.5} b>FDR&lt;5%</T>
      <T x={498} y={71} s={8.5} b>fold&gt;1.5</T>
      <T x={594} y={47.5} s={8.5} b>FDR&lt;5%</T>
      <T x={594} y={57} s={8.5} b>fold&gt;1.5</T>
      <T x={455} y={117} s={25} b c={RED}>229</T>
      <T x={537} y={102} s={25} b>666</T>
      <T x={537} y={139} s={25} b c={RED}>197</T>
      <T x={603} y={75} s={10.5} b a="start">same</T>
      <T x={603} y={85.5} s={10.5} b a="start">direction</T>
      <T x={603} y={104.5} s={10.5} b a="start">opposite</T>
      <T x={603} y={115} s={10.5} b a="start">direction</T>
      <T x={391} y={142} s={15} b c={GREEN}>NaB</T>
      <T x={391} y={159} s={15} b c={GREEN}>not-affected</T>
      <T x={391} y={176} s={15}>5213 probes</T>
      <T x={594} y={142} s={15} b c={BLUE}>NaB</T>
      <T x={594} y={159} s={15} b c={BLUE}>affected</T>
      <T x={594} y={176} s={15}>6330 probes</T>
      <T x={493} y={225} s={26} b c={RED}>C60 specific</T>
      <T x={493} y={252} s={20}>426 probes</T>

      {/* panel C */}
      <T x={277.5} y={286.5} s={19} b>C</T>
      <T x={280} y={440} s={18.5} b c={PURPLE} r>Affected by both NaB and C60</T>
      <GridTable left={301} top={289.3} ux={10.6} uy={10.96} hdr={2.0} rows={tabC.n} total={tabC.total} points={tabC.pts} lines={tabC.lines} />

      {/* panel D */}
      <T x={525} y={287.5} s={20} b>D</T>
      <T x={530} y={370} s={16.5} b c={RED} r>C60 specific</T>
      <GridTable left={547} top={289.3} ux={10.8} uy={10.96} hdr={2.0} rows={tabD.n} total={tabD.total} points={tabD.pts} lines={tabD.lines} />
      <T x={625} y={524} s={10.5} b>Expression fold</T>
      <FoldLegend />

      {/* panel E */}
      <T x={268} y={628.5} s={23} b>E</T>
      <GridTable left={282} top={632.05} ux={1} uy={13.1} hdr={1} rows={eNames.length} total={280} points={tabE.pts} lines={tabE.lines} />
      <T x={287} y={671.35} s={7.5} r>Pathways</T>
      <T x={287} y={743.4} s={7.5} r>Functions</T>
      <T x={301} y={658.25} s={7.5} c={RED} r>act</T>
      <T x={301} y={684.45} s={7.5} c={BLUE} r>inh</T>
      <T x={301} y={723.75} s={7.5} c={RED} r>activated</T>
      <T x={301} y={769.6} s={7.5} c={BLUE} r>inhibited</T>

      {/* panel F */}
      <T x={604} y={627.5} s={20} b>F</T>
      <GridTable left={598} top={634.93} ux={1} uy={11.17} hdr={1} rows={fNames.length} total={132} points={tabF.pts} lines={tabF.lines} />
      <T x={604} y={718.7} s={7} r>Regulators</T>
      <T x={621} y={668.4} s={7} c={RED} r>activated</T>
      <T x={621} y={741} s={7} c={BLUE} r>inhibited</T>

      {/* panel G */}
      <T x={269} y={820} s={21} b>G</T>
      <PanelG />
    </div>
  );
}
